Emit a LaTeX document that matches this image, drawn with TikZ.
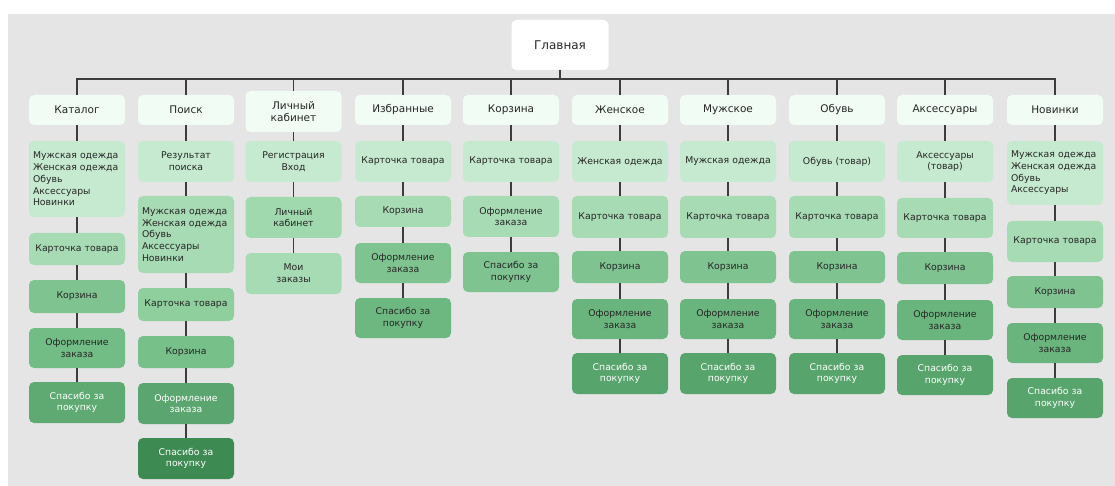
\documentclass[tikz,border=0pt]{standalone}
\usepackage{fontspec}
\setmainfont{DejaVu Sans}
\definecolor{bgc}{HTML}{E5E5E5}
\definecolor{txt}{HTML}{262626}
\definecolor{lnc}{HTML}{3C3C3C}
\definecolor{g0}{HTML}{F0FCF4}
\definecolor{g1}{HTML}{C6EACF}
\definecolor{g2}{HTML}{A7DBB3}
\definecolor{g2b}{HTML}{9FD9AD}
\definecolor{g3}{HTML}{8FCF9E}
\definecolor{g3b}{HTML}{7FC391}
\definecolor{g4}{HTML}{77C08A}
\definecolor{g4b}{HTML}{72BD86}
\definecolor{g4c}{HTML}{6AB57D}
\definecolor{g4d}{HTML}{6DB780}
\definecolor{g5}{HTML}{5FAA73}
\definecolor{g5b}{HTML}{5BA570}
\definecolor{g5c}{HTML}{58A46D}
\definecolor{g6}{HTML}{3D8B52}
\begin{document}
\begin{tikzpicture}[x=1pt,y=-1pt,
  nbox/.style={rounded corners=5pt, draw=none, text width=88pt, inner xsep=4pt, inner ysep=1pt,
    align=center, text=txt, font=\fontsize{9.3}{11.7}\selectfont},
  topn/.style={nbox, fill=g0, font=\fontsize{10.5}{12.5}\selectfont},
  lst/.style={align=left},
  wt/.style={text=white},
  link/.style={draw=lnc, line width=1.6pt}]
\useasboundingbox (0,0) rectangle (1115,486);
\fill[white] (0,0) rectangle (1115,486);
\fill[bgc] (8,14) rectangle (1115,486);

% main
\node[nbox, fill=white, text width=89pt, minimum height=50pt, font=\fontsize{12}{14}\selectfont] (main) at (560,45) {Главная};
\coordinate (bus) at (560,79);

% top level
\node[topn, minimum height=30pt] (t1) at (77,110) {Каталог};
\node[topn, minimum height=30pt] (t2) at (186,110) {Поиск};
\node[topn, minimum height=41pt] (t3) at (293.5,111.5) {Личный\\кабинет};
\node[topn, minimum height=30pt] (t4) at (403,110) {Избранные};
\node[topn, minimum height=30pt] (t5) at (511,110) {Корзина};
\node[topn, minimum height=30pt] (t6) at (620,110) {Женское};
\node[topn, minimum height=30pt] (t7) at (728,110) {Мужское};
\node[topn, minimum height=30pt] (t8) at (837,110) {Обувь};
\node[topn, minimum height=30pt] (t9) at (945,110) {Аксессуары};
\node[topn, minimum height=30pt] (t10) at (1055,110) {Новинки};

% column 1
\node[nbox, lst, fill=g1, minimum height=76pt] (a1) at (77,179) {Мужская одежда\\Женская одежда\\Обувь\\Аксессуары\\Новинки};
\node[nbox, fill=g2, minimum height=32pt] (a2) at (77,249) {Карточка товара};
\node[nbox, fill=g3b, minimum height=33pt] (a3) at (77,296.5) {Корзина};
\node[nbox, fill=g4b, minimum height=40pt] (a4) at (77,348) {Оформление\\заказа};
\node[nbox, wt, fill=g5, minimum height=41pt] (a5) at (77,402.5) {Спасибо за\\покупку};

% column 2
\node[nbox, fill=g1, minimum height=41pt] (b1) at (186,161.5) {Результат\\поиска};
\node[nbox, lst, fill=g2, minimum height=77pt] (b2) at (186,234.5) {Мужская одежда\\Женская одежда\\Обувь\\Аксессуары\\Новинки};
\node[nbox, fill=g3, minimum height=33pt] (b3) at (186,304.5) {Карточка товара};
\node[nbox, fill=g4, minimum height=32pt] (b4) at (186,352) {Корзина};
\node[nbox, wt, fill=g5b, minimum height=41pt] (b5) at (186,403.5) {Оформление\\заказа};
\node[nbox, wt, fill=g6, minimum height=41pt] (b6) at (186,458.5) {Спасибо за\\покупку};

% column 3
\node[nbox, fill=g1, minimum height=41pt] (c1) at (293.5,161.5) {Регистрация\\Вход};
\node[nbox, fill=g2b, minimum height=41pt] (c2) at (293.5,217.5) {Личный\\кабинет};
\node[nbox, fill=g2, minimum height=41pt] (c3) at (293.5,273.5) {Мои\\заказы};

% column 4
\node[nbox, fill=g1, minimum height=41pt] (d1) at (403,161.5) {Карточка товара};
\node[nbox, fill=g2, minimum height=31pt] (d2) at (403,211.5) {Корзина};
\node[nbox, fill=g3b, minimum height=40pt] (d3) at (403,263) {Оформление\\заказа};
\node[nbox, fill=g4d, minimum height=40pt] (d4) at (403,318) {Спасибо за\\покупку};

% column 5
\node[nbox, fill=g1, minimum height=41pt] (e1) at (511,161.5) {Карточка товара};
\node[nbox, fill=g2, minimum height=41pt] (e2) at (511,216.5) {Оформление\\заказа};
\node[nbox, fill=g3b, minimum height=40pt] (e3) at (511,272) {Спасибо за\\покупку};

% columns 6-8
\foreach \x/\n/\f/\p in {620/w/Женская одежда/t6, 728/m/Мужская одежда/t7, 837/s/Обувь (товар)/t8}{
  \node[nbox, fill=g1, minimum height=41pt] (\n1) at (\x,161.5) {\f};
  \node[nbox, fill=g2, minimum height=42pt] (\n2) at (\x,217) {Карточка товара};
  \node[nbox, fill=g3b, minimum height=32pt] (\n3) at (\x,267) {Корзина};
  \node[nbox, fill=g4c, minimum height=40pt] (\n4) at (\x,319) {Оформление\\заказа};
  \node[nbox, wt, fill=g5c, minimum height=41pt] (\n5) at (\x,373.5) {Спасибо за\\покупку};
  \draw[link] (\p.south) -- (\n1.north) (\n1.south) -- (\n2.north) (\n2.south) -- (\n3.north)
              (\n3.south) -- (\n4.north) (\n4.south) -- (\n5.north);
}

% column 9
\node[nbox, fill=g1, minimum height=41pt] (i1) at (945,161.5) {Аксессуары\\(товар)};
\node[nbox, fill=g2, minimum height=40pt] (i2) at (945,218) {Карточка товара};
\node[nbox, fill=g3b, minimum height=32pt] (i3) at (945,268) {Корзина};
\node[nbox, fill=g4c, minimum height=40pt] (i4) at (945,320) {Оформление\\заказа};
\node[nbox, wt, fill=g5c, minimum height=40pt] (i5) at (945,375) {Спасибо за\\покупку};

% column 10
\node[nbox, lst, fill=g1, minimum height=64pt] (j1) at (1055,173) {Мужская одежда\\Женская одежда\\Обувь\\Аксессуары};
\node[nbox, fill=g2, minimum height=41pt] (j2) at (1055,241.5) {Карточка товара};
\node[nbox, fill=g3b, minimum height=32pt] (j3) at (1055,292) {Корзина};
\node[nbox, fill=g4c, minimum height=40pt] (j4) at (1055,343) {Оформление\\заказа};
\node[nbox, wt, fill=g5c, minimum height=40pt] (j5) at (1055,398) {Спасибо за\\покупку};

% bus
\draw[link] (main.south) -- (bus);
\draw[link] (t1.north) -- (t1.north |- bus) -- (t10.north |- bus) -- (t10.north);
\foreach \k in {t2,t3,t4,t5,t6,t7,t8,t9}{
  \draw[link] (\k.north) -- (\k.north |- bus);
}

% chains
\draw[link] (t1.south) -- (a1.north) (a1.south) -- (a2.north) (a2.south) -- (a3.north)
            (a3.south) -- (a4.north) (a4.south) -- (a5.north);
\draw[link] (t2.south) -- (b1.north) (b1.south) -- (b2.north) (b2.south) -- (b3.north)
            (b3.south) -- (b4.north) (b4.south) -- (b5.north) (b5.south) -- (b6.north);
\draw[link] (t3.south) -- (c1.north) (c1.south) -- (c2.north) (c2.south) -- (c3.north);
\draw[link] (t4.south) -- (d1.north) (d1.south) -- (d2.north) (d2.south) -- (d3.north)
            (d3.south) -- (d4.north);
\draw[link] (t5.south) -- (e1.north) (e1.south) -- (e2.north) (e2.south) -- (e3.north);
\draw[link] (t9.south) -- (i1.north) (i1.south) -- (i2.north) (i2.south) -- (i3.north)
            (i3.south) -- (i4.north) (i4.south) -- (i5.north);
\draw[link] (t10.south) -- (j1.north) (j1.south) -- (j2.north) (j2.south) -- (j3.north)
            (j3.south) -- (j4.north) (j4.south) -- (j5.north);
\end{tikzpicture}
\end{document}
